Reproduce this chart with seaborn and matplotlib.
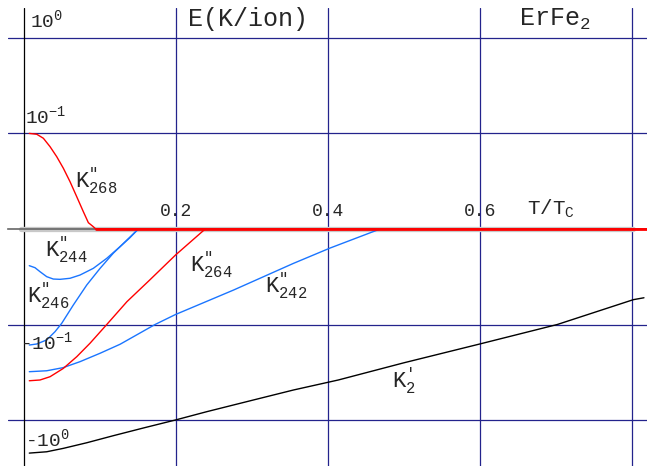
import numpy as np
import pandas as pd
import seaborn as sns
import matplotlib
matplotlib.use("Agg")
import matplotlib.pyplot as plt

# E(K/ion) vs T/Tc for ErFe2
t_268 = [0.0076, 0.0174, 0.0261, 0.0349, 0.0437, 0.0524, 0.0612, 0.070, 0.0787, 0.0853, 0.0918, 0.095, 0.82]
e_268 = [0.1002, 0.0992, 0.0950, 0.0862, 0.0757, 0.0636, 0.0495, 0.0338, 0.0181, 0.0066, 0.0024, 0.0, 0.0]

t_244 = [0.0076, 0.0151, 0.0217, 0.0305, 0.0392, 0.0480, 0.0612, 0.0743, 0.0918, 0.1095, 0.127, 0.140, 0.151]
e_244 = [-0.0384, -0.0405, -0.0447, -0.0499, -0.0524, -0.0527, -0.0516, -0.0482, -0.0412, -0.0307, -0.0185, -0.0091, 0.0]

t_246 = [0.0076, 0.0174, 0.0305, 0.0414, 0.0503, 0.0655, 0.0832, 0.1007, 0.118, 0.136, 0.151]
e_246 = [-0.164, -0.160, -0.145, -0.119, -0.0987, -0.0796, -0.0586, -0.0412, -0.0254, -0.0115, 0.0]

t_242 = [0.0076, 0.0305, 0.052, 0.0743, 0.1007, 0.127, 0.173, 0.200, 0.276, 0.355, 0.403, 0.469]
e_242 = [-0.312, -0.305, -0.283, -0.245, -0.200, -0.161, -0.100, -0.0895, -0.064, -0.036, -0.020, 0.0]

t_264 = [0.0076, 0.0217, 0.0349, 0.0524, 0.0701, 0.0875, 0.1095, 0.136, 0.166, 0.200, 0.239]
e_264 = [-0.388, -0.381, -0.352, -0.288, -0.217, -0.157, -0.100, -0.0761, -0.0534, -0.0272, 0.0]

t_2p = [0.0076, 0.0305, 0.0524, 0.0832, 0.118, 0.158, 0.1997, 0.241, 0.302, 0.355, 0.414,
        0.50, 0.600, 0.702, 0.802, 0.816]
e_2p = [-2.22, -2.15, -1.98, -1.73, -1.46, -1.21, -1.0, -0.818, -0.618, -0.485, -0.381,
        -0.252, -0.160, -0.100, -0.074, -0.072]

t_zero = [-0.003, 0.802]
e_zero = [0.0, 0.0]

xticks = [0.2, 0.4, 0.6]
xtick_labels = ["0.2", "0.4", "0.6"]

sns.set_style("white")
plt.rcParams['font.family'] = ['Liberation Mono', 'DejaVu Sans']
plt.rcParams['mathtext.fontset'] = 'custom'
plt.rcParams['mathtext.rm'] = 'Liberation Mono'
plt.rcParams['mathtext.it'] = 'Liberation Mono'
plt.rcParams['mathtext.default'] = 'rm'

W, H = 647, 466
fig = plt.figure(figsize=(W / 100, H / 100), dpi=100)
ax = fig.add_axes([8 / W, 0, (W - 8) / W, (H - 8) / H])
ax.set_yscale('symlog', linthresh=0.1, linscale=0.9)
ax.set_xlim(-0.0204, 0.820)
ax.set_ylim(-3.03, 2.06)

navy = '#23238c'
blue = '#1a75ff'
for x in [0.2, 0.4, 0.6, 0.8]:
    ax.axvline(x, color=navy, lw=0.9, zorder=1)
for y in [1, 0.1, -0.1, -1]:
    ax.axhline(y, color=navy, lw=0.9, zorder=1)
ax.axvline(0, color='black', lw=0.9, zorder=1)

for s in ['left', 'right', 'bottom']:
    ax.spines[s].set_visible(False)
ax.spines['top'].set_position(('data', 0))
ax.spines['top'].set_color('#666666')
ax.spines['top'].set_linewidth(1.2)
ax.xaxis.tick_top()
ax.set_xticks(xticks)
ax.set_xticklabels(xtick_labels)
ax.tick_params(axis='x', length=0, pad=6.5, labelsize=13)
ax.set_yticks([])
ax.set_xlabel("")
ax.set_ylabel("")

# zero line and curves
sns.lineplot(x=t_zero, y=e_zero, ax=ax, color='#c8c8c8', lw=3.8,
             solid_capstyle='round', zorder=2)
kw = dict(ax=ax, sort=False, estimator=None, lw=1.0, zorder=3)
sns.lineplot(x=t_244, y=e_244, color=blue, **kw)
sns.lineplot(x=t_246, y=e_246, color=blue, **kw)
sns.lineplot(x=t_242, y=e_242, color=blue, **kw)
sns.lineplot(x=t_264, y=e_264, color='red', **kw)
sns.lineplot(x=t_268, y=e_268, color='red', **kw)
sns.lineplot(x=t_2p, y=e_2p, color='black', **kw)
tail = np.array(e_268) == 0
sns.lineplot(x=np.array(t_268)[tail], y=np.array(e_268)[tail], ax=ax,
             color='red', lw=2.0, zorder=4)


def label(px, py, s, size):
    fig.text(px / W, 1 - py / H, s, fontsize=size, ha='left', va='baseline')


def klabel(px, py, sub, mark='\u2033'):
    label(px, py, "K$^{%s}_{%s}$" % (mark, sub), 16)


label(188, 26, "E(K/ion)", 18)
label(519, 26, "ErFe$_2$", 18)
label(527, 215, "T/T$_\\mathrm{C}$", 15)

label(30, 27, "10$^{0}$", 14)
label(25, 123, "10$^{-1}$", 14)
label(20, 349, "-10$^{-1}$", 14)
label(25, 446, "-10$^{0}$", 14)

klabel(75, 188, "268")
klabel(45, 257, "244")
klabel(27, 303, "246")
klabel(190, 272, "264")
klabel(265, 293, "242")
klabel(392, 388, "2", "\u2032")

fig.savefig("out.png", dpi=100)
